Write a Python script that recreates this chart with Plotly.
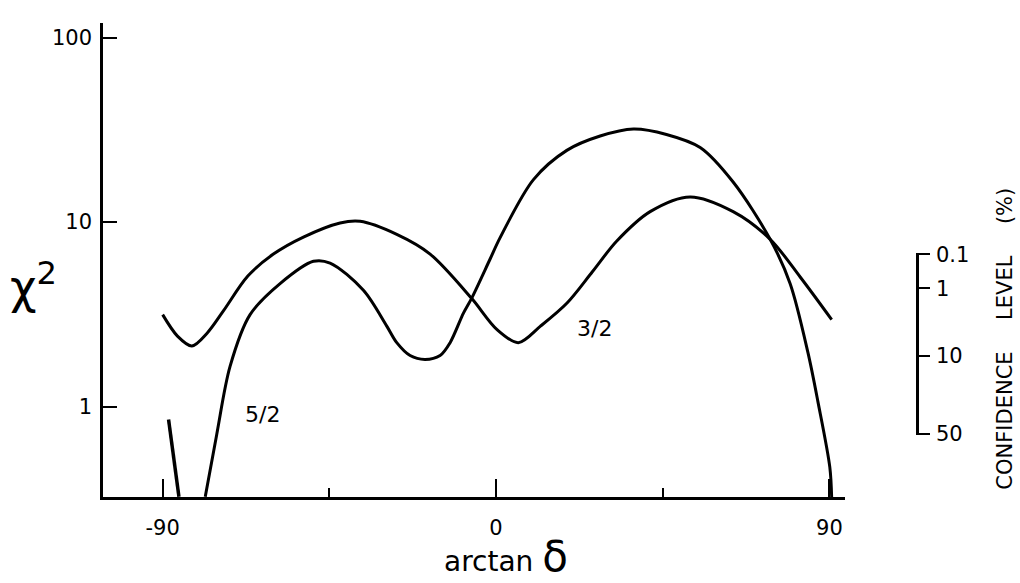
import math
import plotly.graph_objects as go

# chi-squared versus arctan(delta) for the two spin hypotheses
x_32 = [-90.0, -86.0, -82.1, -78.0, -73.6, -67.0, -60.1, -52.0, -42.1, -36.7,
        -26.8, -17.8, -6.6, 0.2, 6.0, 12.0, 19.1, 26.0, 32.6, 41.6,
        52.4, 64.0, 74.0, 82.1, 90.6]
chi2_32 = [3.15, 2.41, 2.13, 2.5, 3.3, 5.1, 6.71, 8.3, 9.9, 10.1,
           8.58, 6.71, 3.86, 2.62, 2.22, 2.73, 3.63, 5.38, 7.9, 11.4,
           13.7, 11.4, 8.07, 5.04, 2.96]

# spin 5/2: short branch near -90, then the main branch
x_52_a = [-88.4, -85.6]
chi2_52_a = [0.85, 0.324]
x_52_b = [-78.5, -75.4, -71.8, -66.4, -58.3, -49.3, -44.8, -35.8, -29.5, -26.8,
          -23.2, -19.2, -15.1, -12.4, -8.8, -6.6, -1.6, 1.1, 10.1, 19.1,
          28.1, 37.1, 46.0, 55.1, 64.0, 74.0, 79.4, 84.2, 86.9, 90.1, 90.6]
chi2_52_b = [0.324, 0.706, 1.65, 3.15, 4.64, 6.13, 6.0, 4.27, 2.73, 2.22,
             1.89, 1.80, 1.89, 2.22, 3.21, 3.86, 6.31, 8.24, 17.0, 24.5,
             29.3, 32.0, 29.9, 25.4, 16.5, 8.07, 4.64, 1.96, 1.06, 0.469, 0.32]

x_ticks = [-90, 0, 90]
x_tick_text = ["-90", "0", "90"]
x_minor_ticks = [-45, 45]
y_ticks = [1, 10, 100]
y_tick_text = ["1", "10", "100"]

# confidence-level scale and the chi-squared values it sits against
conf_labels = ["0.1", "1", "10", "50"]
conf_chi2 = [6.7, 4.37, 1.89, 0.71]

curve_labels = ["5/2", "3/2"]

# plot geometry (pixels)
W, H = 1020, 583
PL, PR, PT, PB = 103, 1000, 15, 497
X_RANGE = [-106.1, 94.2]
Y_RANGE = [-0.4907, 2.08]


def px_x(p):
    return (p - PL) / (PR - PL)


def px_y(p):
    return (PB - p) / (PB - PT)


FONT = "DejaVu Sans"
INK = "black"

fig = go.Figure()
line = dict(color=INK, width=3, shape="spline", smoothing=0.9)
fig.add_trace(go.Scatter(x=x_32, y=chi2_32, mode="lines", line=line,
                         showlegend=False, hoverinfo="skip"))
fig.add_trace(go.Scatter(x=x_52_a, y=chi2_52_a, mode="lines",
                         line=dict(color=INK, width=3.5),
                         showlegend=False, hoverinfo="skip"))
fig.add_trace(go.Scatter(x=x_52_b, y=chi2_52_b, mode="lines", line=line,
                         showlegend=False, hoverinfo="skip"))
# empty trace that attaches the confidence scale to the plot
fig.add_trace(go.Scatter(x=[None], y=[None], yaxis="y2", mode="lines",
                         showlegend=False, hoverinfo="skip"))

# confidence axis shares the chi-squared log scale over a shorter span
c_lo = math.log10(min(conf_chi2)) - 0.004
c_hi = math.log10(max(conf_chi2)) + 0.004
span = Y_RANGE[1] - Y_RANGE[0]
c_domain = [(c_lo - Y_RANGE[0]) / span, (c_hi - Y_RANGE[0]) / span]

fig.update_layout(
    width=W, height=H,
    margin=dict(l=PL, r=W - PR, t=PT, b=H - PB),
    paper_bgcolor="white", plot_bgcolor="rgba(0,0,0,0)",
    font=dict(family=FONT, color=INK),
    xaxis=dict(
        domain=[0, px_x(845)], range=X_RANGE, showgrid=False, zeroline=False,
        showline=True, linecolor=INK, linewidth=2.5,
        ticks="inside", tickvals=x_ticks, ticktext=x_tick_text,
        ticklen=18, tickwidth=2, tickcolor=INK,
        tickfont=dict(size=21, family=FONT), ticklabelstandoff=10,
        minor=dict(tickvals=x_minor_ticks, ticks="inside", ticklen=9,
                   tickwidth=2, tickcolor=INK, showgrid=False),
    ),
    yaxis=dict(
        type="log", range=Y_RANGE, showgrid=False, zeroline=False,
        showline=True, linecolor=INK, linewidth=2.5,
        ticks="inside", tickvals=y_ticks, ticktext=y_tick_text,
        ticklen=14, tickwidth=2, tickcolor=INK,
        tickfont=dict(size=21, family=FONT), ticklabelstandoff=4,
    ),
    yaxis2=dict(
        type="log", range=[c_lo, c_hi], domain=c_domain,
        anchor="free", position=px_x(917), side="right",
        showgrid=False, zeroline=False, showline=True, linecolor=INK,
        linewidth=2.5, ticks="outside", tickvals=conf_chi2,
        ticktext=conf_labels, ticklen=11, tickwidth=2, tickcolor=INK,
        tickfont=dict(size=21, family=FONT), ticklabelstandoff=2,
    ),
)

ann = dict(xref="paper", yref="paper", showarrow=False,
           xanchor="center", yanchor="middle")
fig.add_annotation(x=px_x(33), y=px_y(280), text="χ<sup>2</sup>",
                   font=dict(size=46, family=FONT), **ann)
fig.add_annotation(x=px_x(506), y=px_y(558),
                   text="arctan <span style='font-size:42px'>δ</span>",
                   font=dict(size=28, family=FONT), **ann)
fig.add_annotation(x=px_x(262), y=px_y(413), text=curve_labels[0],
                   font=dict(size=22, family=FONT), **ann)
fig.add_annotation(x=px_x(594), y=px_y(326), text=curve_labels[1],
                   font=dict(size=22, family=FONT), **ann)
fig.add_annotation(x=px_x(1005), y=px_y(336), textangle=-90,
                   text="CONFIDENCE\u2003\u2002LEVEL\u2003\u2002(%)",
                   font=dict(size=21, family=FONT), **ann)

fig.write_html("out.html")
